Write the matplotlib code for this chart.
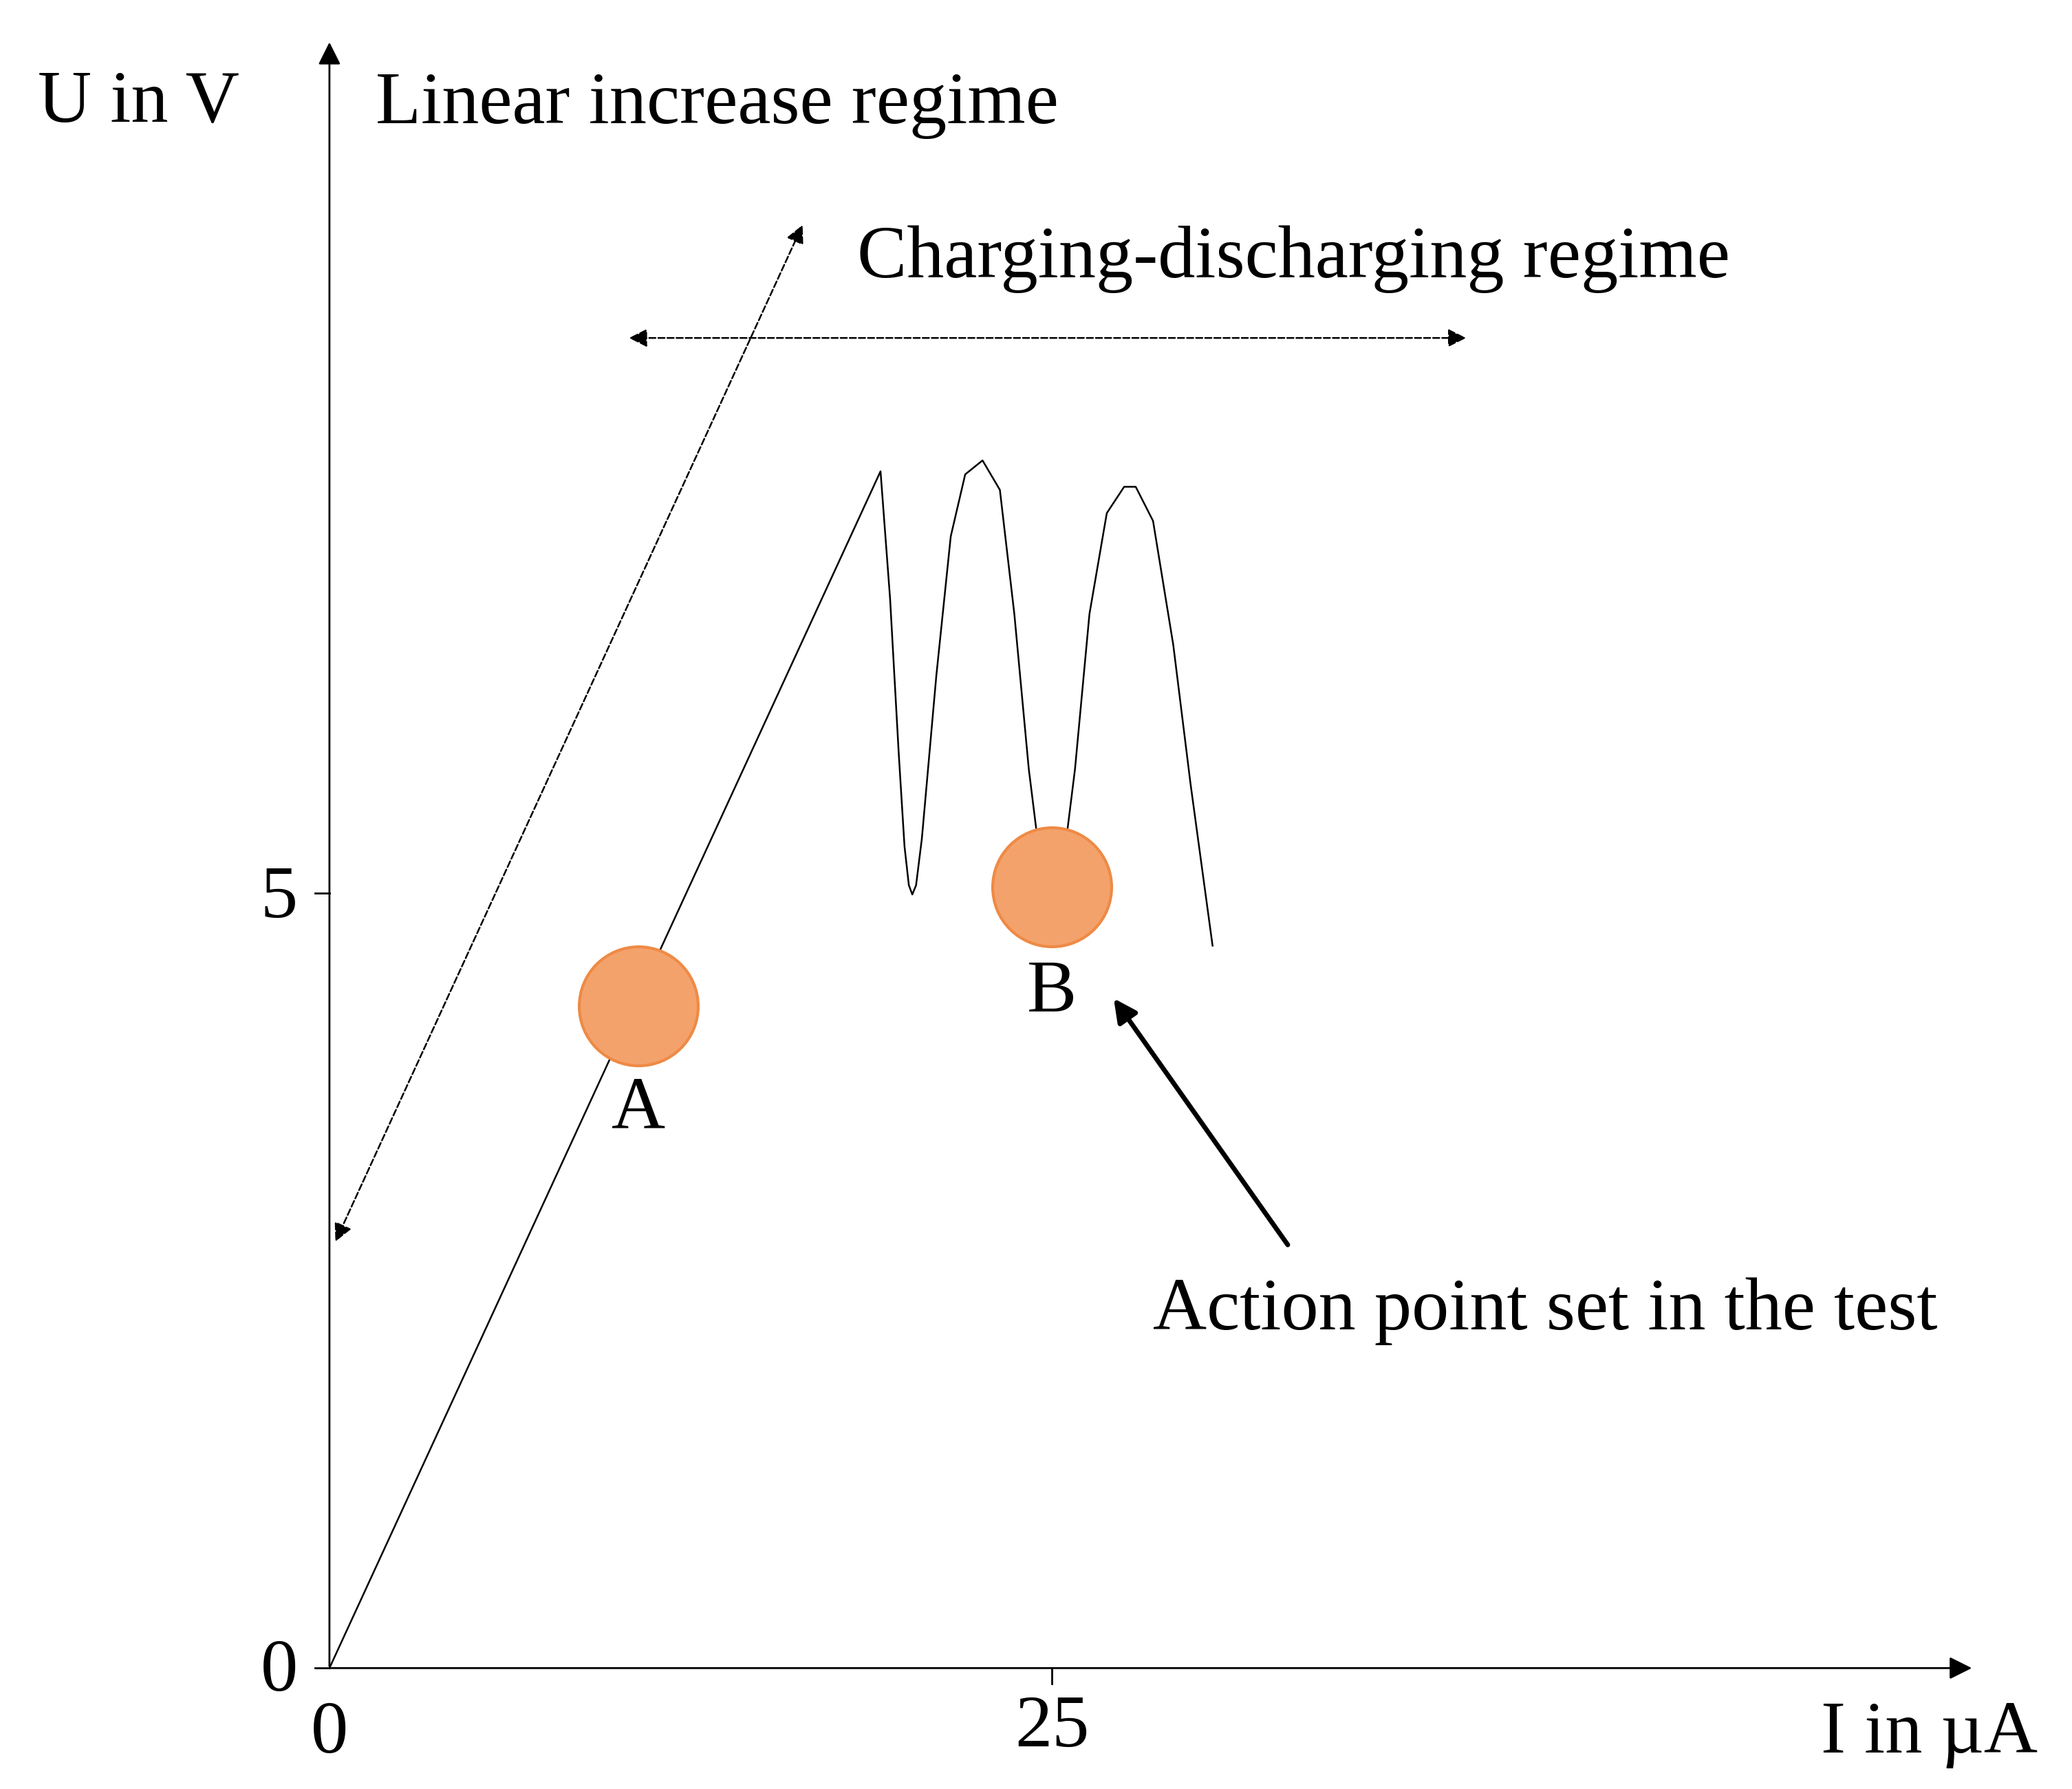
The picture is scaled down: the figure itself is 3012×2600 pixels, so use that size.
import matplotlib.pyplot as plt

plt.rcParams['font.family'] = ['Liberation Serif', 'DejaVu Serif']

# curve (I in uA, U in V)
curve_i = [0, 19.07, 19.4, 19.7, 19.9, 20.05, 20.17, 20.3, 20.5, 21.0, 21.5, 22.0, 22.6,
           23.2, 23.7, 24.2, 24.6, 25.0, 25.4, 25.8, 26.3, 26.9, 27.5, 27.9, 28.5, 29.2, 29.8, 30.56]
curve_u = [0, 7.72, 6.9, 5.9, 5.3, 5.05, 4.99, 5.05, 5.35, 6.4, 7.3, 7.7, 7.79,
           7.6, 6.8, 5.8, 5.2, 4.99, 5.2, 5.8, 6.8, 7.45, 7.62, 7.62, 7.4, 6.6, 5.7, 4.66]

points_i = [10.7, 25.0]
points_u = [4.27, 5.04]
point_labels = ['A', 'B']

fig = plt.figure(figsize=(30.12, 26), dpi=100)
ax = fig.add_axes([0, 0, 1, 1])
ax.set_xlim(-11.4, 60.3)
ax.set_ylim(-0.78, 10.76)
ax.axis('off')

# axes with arrows
ax.annotate('', xy=(56.9, 0), xytext=(0, 0),
            arrowprops=dict(arrowstyle='-|>', lw=2, color='black', mutation_scale=50))
ax.annotate('', xy=(0, 10.5), xytext=(0, 0),
            arrowprops=dict(arrowstyle='-|>', lw=2, color='black', mutation_scale=50))
ax.plot([25, 25], [0, -0.1], color='black', lw=2)
ax.plot([0, -0.5], [5, 5], color='black', lw=2)
ax.plot([0, -0.5], [0, 0], color='black', lw=2)

ax.plot(curve_i, curve_u, color='black', lw=1.8)
ax.scatter(points_i, points_u, s=15500, color='#F4A26C', edgecolor='#EE8A45', lw=3, zorder=3)

fs = 78
ax.text(points_i[0], 3.6, point_labels[0], fontsize=fs, ha='center', va='center')
ax.text(points_i[1], 4.35, point_labels[1], fontsize=fs, ha='center', va='center')

ax.text(-1.1, 4.96, '5', fontsize=fs, ha='right', va='center')
ax.text(-1.1, -0.03, '0', fontsize=fs, ha='right', va='center')
ax.text(0, -0.43, '0', fontsize=fs, ha='center', va='center')
ax.text(25, -0.39, '25', fontsize=fs, ha='center', va='center')
ax.text(59.1, -0.43, 'I in µA', fontsize=fs, ha='right', va='center')
ax.text(-10.1, 10.09, 'U in V', fontsize=fs, ha='left', va='center')
ax.text(1.6, 10.08, 'Linear increase regime', fontsize=fs, ha='left', va='center')
ax.text(18.25, 9.09, 'Charging-discharging regime', fontsize=fs, ha='left', va='center')
ax.text(28.5, 2.30, 'Action point set in the test', fontsize=fs, ha='left', va='center')

# dashed regime arrows
ax.annotate('', xy=(16.4, 9.32), xytext=(0.18, 2.74),
            arrowprops=dict(arrowstyle='<|-|>', lw=1.8, ls='--', color='black', mutation_scale=40))
ax.annotate('', xy=(39.4, 8.58), xytext=(10.3, 8.58),
            arrowprops=dict(arrowstyle='<|-|>', lw=1.8, ls='--', color='black', mutation_scale=40))
# action point arrow
ax.annotate('', xy=(27.1, 4.33), xytext=(33.2, 2.72),
            arrowprops=dict(arrowstyle='-|>', lw=5, color='black', mutation_scale=50))

fig.savefig('out.png', dpi=100, facecolor='white')
